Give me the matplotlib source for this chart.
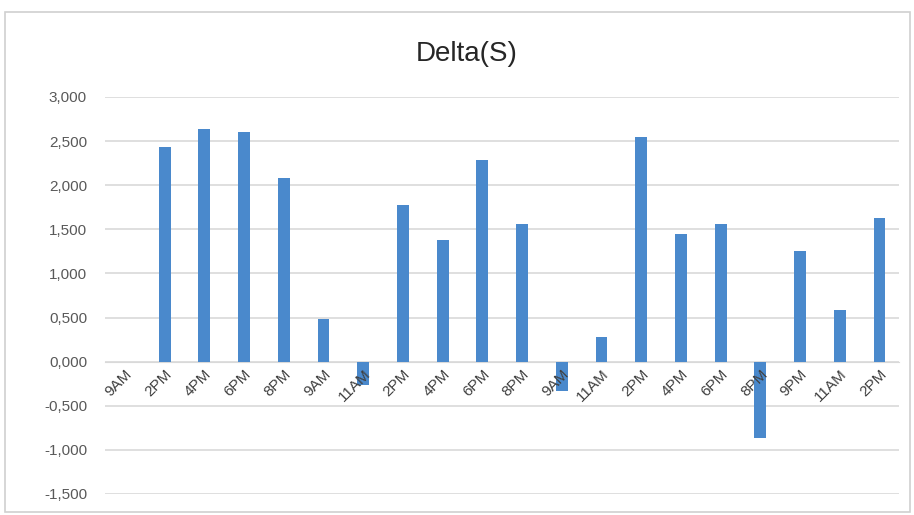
import numpy as np
import matplotlib.pyplot as plt
from matplotlib.patches import Rectangle

# categories along the x axis (time of day)
labels = ['9AM', '2PM', '4PM', '6PM', '8PM', '9AM', '11AM', '2PM', '4PM', '6PM',
          '8PM', '9AM', '11AM', '2PM', '4PM', '6PM', '8PM', '9PM', '11AM', '2PM']
# Delta(S) values
delta = [0.0, 2.43, 2.64, 2.60, 2.08, 0.48, -0.27, 1.78, 1.38, 2.28,
         1.56, -0.33, 0.28, 2.55, 1.45, 1.56, -0.87, 1.25, 0.58, 1.63]
yticks = [-1.5, -1.0, -0.5, 0.0, 0.5, 1.0, 1.5, 2.0, 2.5, 3.0]

plt.rcParams['font.family'] = ['Liberation Sans', 'DejaVu Sans']

fig = plt.figure(figsize=(9.14, 5.15), dpi=100)
ax = fig.add_axes([0.115, 0.0408, 0.869, 0.7709])

x = np.arange(len(labels))
ax.bar(x, delta, width=0.3, color='#4a89cc', edgecolor='none', zorder=3)

ax.set_xlim(-0.5, len(labels) - 0.5)
ax.set_ylim(-1.5, 3.0)
ax.set_yticks(yticks)
ax.set_yticklabels([('%.3f' % v).replace('.', ',') for v in yticks],
                   fontsize=11, color='#595959')
ax.tick_params(axis='y', length=0, pad=13)
ax.grid(axis='y', color='#d9d9d9', linewidth=1.2)

# gridlines behind the bars, category labels in front of them
ax.yaxis.set_zorder(0.5)
ax.xaxis.set_zorder(4)

# category axis crosses at zero
ax.spines['bottom'].set_position(('data', 0))
ax.spines['bottom'].set_color('#d9d9d9')
ax.spines['bottom'].set_zorder(0.6)
for s in ['top', 'right', 'left']:
    ax.spines[s].set_visible(False)
ax.set_xticks(x)
ax.set_xticklabels(labels, rotation=45, ha='right', rotation_mode='anchor',
                   fontsize=11, color='#404040')
ax.tick_params(axis='x', length=0, pad=4)

fig.text(0.511, 0.895, 'Delta(S)', ha='center', va='center', fontsize=20, color='#262626')

fig.patches.append(Rectangle((0.006, 0.005), 0.99, 0.972, transform=fig.transFigure,
                             fill=False, edgecolor='#d0d0d0', linewidth=1.2))

plt.savefig('out.png', dpi=100)
